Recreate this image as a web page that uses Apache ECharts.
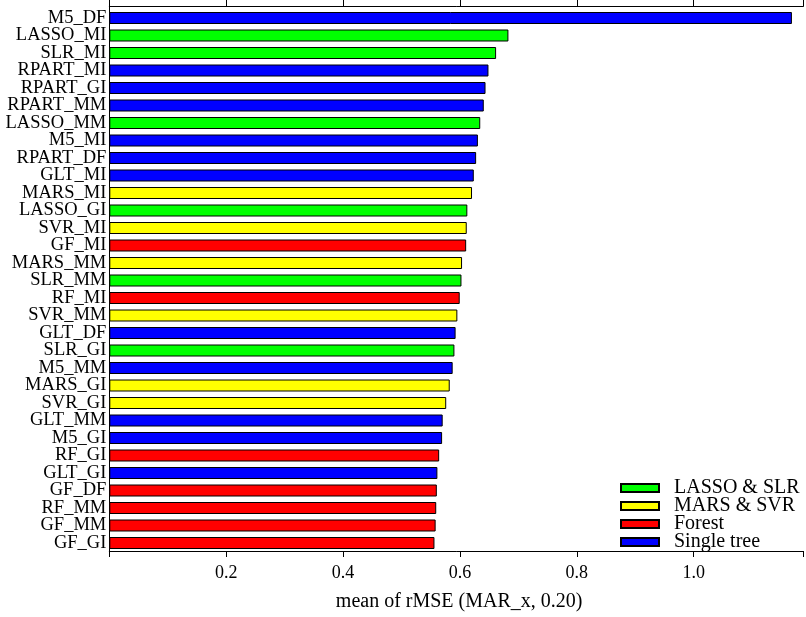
<!DOCTYPE html>
<html>
<head>
<meta charset="utf-8">
<script src="https://cdn.jsdelivr.net/npm/echarts@6/dist/echarts.min.js"></script>
<style>html,body{margin:0;padding:0;background:#fff}#c{width:806px;height:617px}</style>
</head>
<body>
<div id="c"></div>
<script>
const categories = ['M5_DF','LASSO_MI','SLR_MI','RPART_MI','RPART_GI','RPART_MM','LASSO_MM','M5_MI','RPART_DF','GLT_MI','MARS_MI','LASSO_GI','SVR_MI','GF_MI','MARS_MM','SLR_MM','RF_MI','SVR_MM','GLT_DF','SLR_GI','M5_MM','MARS_GI','SVR_GI','GLT_MM','M5_GI','RF_GI','GLT_GI','GF_DF','RF_MM','GF_MM','GF_GI'];
const values = [1.163,0.680,0.659,0.646,0.641,0.638,0.632,0.628,0.625,0.621,0.618,0.610,0.609,0.608,0.601,0.600,0.597,0.593,0.590,0.588,0.585,0.580,0.574,0.568,0.567,0.562,0.559,0.558,0.557,0.556,0.554];
const groupOf = ['Single tree','LASSO & SLR','LASSO & SLR','Single tree','Single tree','Single tree','LASSO & SLR','Single tree','Single tree','Single tree','MARS & SVR','LASSO & SLR','MARS & SVR','Forest','MARS & SVR','LASSO & SLR','Forest','MARS & SVR','Single tree','LASSO & SLR','Single tree','MARS & SVR','MARS & SVR','Single tree','Single tree','Forest','Single tree','Forest','Forest','Forest','Forest'];
const groupNames = ['LASSO & SLR','MARS & SVR','Forest','Single tree'];
const groupColors = ['#00ff00','#ffff00','#ff0000','#0000ff'];
const xTicks = [0.2,0.4,0.6,0.8,1.0];
const axisTitle = 'mean of rMSE (MAR_x, 0.20)';

const XMIN = 0, XMAX = 1.187;
const FONT = '"Liberation Serif","Times New Roman",serif';
const lineStyle = {color:'#000', width:1};

function tickFmt(v){
  for (const t of xTicks) if (Math.abs(v - t) < 1e-6) return t.toFixed(1);
  return '';
}

const series = groupNames.map((name, gi) => ({
  name: name,
  type: 'bar',
  xAxisIndex: 0,
  yAxisIndex: 0,
  barWidth: 12,
  barGap: '-100%',
  itemStyle: {color: groupColors[gi], borderColor: '#000', borderWidth: 1},
  data: values.map((v, i) => groupOf[i] === name ? v : '-'),
  animation: false
}));

const chart = echarts.init(document.getElementById('c'), null, {renderer:'canvas'});
chart.setOption({
  backgroundColor: '#fff',
  animation: false,
  textStyle: {fontFamily: FONT},
  grid: [
    {left: 109.3, right: 0, top: 9.25, height: 542.5},
    {left: 109.3, right: 0, top: 6.7, bottom: 63}
  ],
  legend: {
    data: groupNames,
    orient: 'vertical',
    left: 620,
    top: 478,
    padding: 0,
    itemWidth: 38,
    itemHeight: 8,
    itemGap: -2,
    icon: 'rect',
    textStyle: {fontFamily: FONT, fontSize: 20, color: '#000', lineHeight: 18, padding: [0,0,0,10]}
  },
  xAxis: [
    {gridIndex: 0, type: 'value', min: XMIN, max: XMAX, show: false, splitLine: {show:false}},
    {gridIndex: 1, type: 'value', position: 'bottom', min: XMIN, max: XMAX, interval: 0.2,
     axisLine: {show: true, onZero: false, lineStyle: lineStyle},
     axisTick: {show: true, inside: false, length: 6, lineStyle: lineStyle},
     axisLabel: {show: true, margin: 13, color: '#000', fontFamily: FONT, fontSize: 18, formatter: tickFmt, showMinLabel: true, showMaxLabel: true},
     splitLine: {show: false},
     name: axisTitle, nameLocation: 'middle', nameGap: 41,
     nameTextStyle: {fontFamily: FONT, fontSize: 20, color: '#000', padding: [0,0,0,6]}},
    {gridIndex: 1, type: 'value', position: 'top', min: XMIN, max: XMAX, interval: 0.2,
     axisLine: {show: true, onZero: false, lineStyle: lineStyle},
     axisTick: {show: true, inside: false, length: 7, lineStyle: lineStyle},
     axisLabel: {show: false},
     splitLine: {show: false}}
  ],
  yAxis: [
    {gridIndex: 0, type: 'category', data: categories, inverse: true,
     axisLine: {show: false}, axisTick: {show: false},
     axisLabel: {show: true, margin: 3, color: '#000', fontFamily: FONT, fontSize: 18.5, interval: 0},
     splitLine: {show: false}},
    {gridIndex: 1, type: 'value', min: 0, max: 1,
     axisLine: {show: true, onZero: false, lineStyle: lineStyle},
     axisTick: {show: false}, axisLabel: {show: false}, splitLine: {show: false}}
  ],
  series: series
});
</script>
</body>
</html>
